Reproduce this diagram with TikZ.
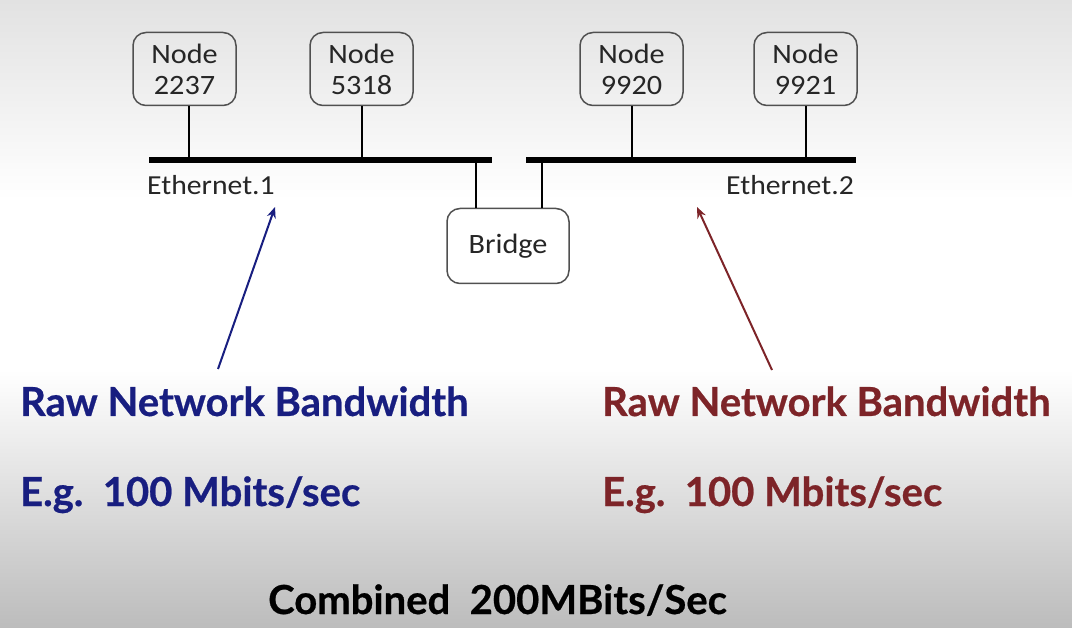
\documentclass[tikz,border=0pt]{standalone}
\usepackage{fontspec}
\setmainfont{Carlito}
\newfontfamily\diagfont[FakeStretch=1.08]{Carlito}
\newfontfamily\slidefont[FakeBold=0.6]{Lato}
\usetikzlibrary{arrows.meta}
\definecolor{navyblue}{RGB}{24,30,128}
\definecolor{darkmaroon}{RGB}{125,36,40}
\definecolor{boxline}{RGB}{80,80,80}
\definecolor{bgtop}{RGB}{226,226,226}
\definecolor{bgbottom}{RGB}{188,188,188}
\begin{document}
\begin{tikzpicture}[x=1pt,y=-1pt,
  hostbox/.style={draw=boxline, line width=1.5pt, rounded corners=13pt,
    minimum width=103pt, minimum height=73pt, inner sep=0pt, align=center,
    font=\diagfont\fontsize{28}{31}\selectfont, text=black!85},
  bridgebox/.style={hostbox, fill=white, minimum width=122pt, minimum height=75pt},
  bus/.style={line width=6.5pt},
  stem/.style={line width=2pt},
  netlabel/.style={font=\diagfont\fontsize{27.5}{30}\selectfont, text=black!85, inner sep=0pt},
  bigtext/.style={font=\slidefont\bfseries\fontsize{40}{44}\selectfont, inner sep=0pt, anchor=base west},
  pointer/.style={line width=2pt, -{Stealth[length=11pt,width=9pt]}}
]
% background
\useasboundingbox (0,0) rectangle (1072,628);
\shade[top color=bgtop, bottom color=white] (0,0) rectangle (1072,200);
\fill[white] (0,199) rectangle (1072,371);
\shade[top color=white, bottom color=bgbottom] (0,370) rectangle (1072,628);

% hosts
\node[hostbox] (n2237) at (184.5,69) {Node\\2237};
\node[hostbox, minimum height=73pt] (n5318) at (361.5,69) {Node\\5318};
\node[hostbox] (n9920) at (631.5,69) {Node\\9920};
\node[hostbox] (n9921) at (805.5,69) {Node\\9921};
\node[bridgebox] (bridge) at (508,246) {Bridge};

% buses
\coordinate (e1l) at (149,160);
\coordinate (e1r) at (492,160);
\coordinate (e2l) at (526,160);
\coordinate (e2r) at (856,160);
\draw[bus] (e1l) -- (e1r);
\draw[bus] (e2l) -- (e2r);

% stems
\draw[stem] (n2237.south -| 189,0) -- (189,160);
\draw[stem] (n5318.south -| 362,0) -- (362,160);
\draw[stem] (n9920.south -| 632,0) -- (632,160);
\draw[stem] (n9921.south -| 806,0) -- (806,160);
\draw[stem] (476,160) -- (bridge.north -| 476,0);
\draw[stem] (542,160) -- (bridge.north -| 542,0);

% labels
\node[netlabel, anchor=west] (eth1) at (147,185) {Ethernet.1};
\node[netlabel, anchor=east] (eth2) at (854,185) {Ethernet.2};

% bottom texts
\node[bigtext, text=navyblue] (raw1) at (20,416) {Raw Network Bandwidth};
\node[bigtext, text=navyblue] (eg1) at (20,506) {E.g.\ \ 100 Mbits/sec};
\node[bigtext, text=darkmaroon] (raw2) at (602,416) {Raw Network Bandwidth};
\node[bigtext, text=darkmaroon] (eg2) at (602,506) {E.g.\ \ 100 Mbits/sec};
\node[bigtext, text=black] (comb) at (268,614) {Combined\ \ 200MBits/Sec};

% pointers
\coordinate (t1) at (218,369);
\coordinate (h1) at (275,207);
\coordinate (t2) at (772,370);
\coordinate (h2) at (697,207);
\draw[pointer, navyblue] (t1) -- (h1);
\draw[pointer, darkmaroon] (t2) -- (h2);
\end{tikzpicture}
\end{document}
